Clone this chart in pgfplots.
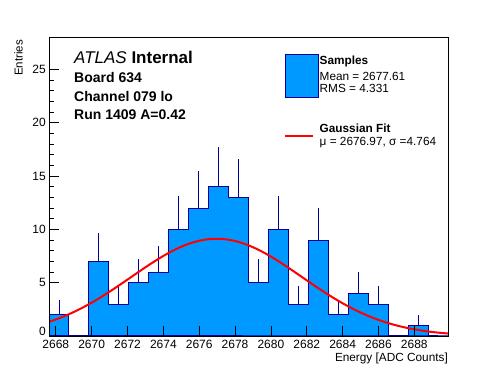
\documentclass[border=0pt]{standalone}
\usepackage{fontspec}
\setmainfont{Liberation Sans}
\usepackage{pgfplots}
\pgfplotsset{compat=1.18}
\definecolor{histfill}{RGB}{0,153,255}
\definecolor{histline}{RGB}{0,0,153}
\definecolor{fitred}{RGB}{255,0,0}
\begin{document}
\begin{tikzpicture}
\useasboundingbox (-49pt,-38pt) rectangle (449pt,336pt);
\begin{axis}[
  at={(0pt,0pt)}, anchor=south west,
  scale only axis, width=399pt, height=298.5pt,
  xmin=2667.62, xmax=2689.88, ymin=0, ymax=28,
  axis on top,
  tick align=inside,
  xtick pos=bottom, ytick pos=left,
  xtick={2668,2670,...,2688},
  ytick={5,10,...,25},
  extra y ticks={0},
  extra y tick style={yticklabel style={yshift=5pt}},
  minor x tick num=3, minor y tick num=4,
  major tick length=10pt, minor tick length=5pt,
  axis line style={line width=0.8pt},
  every tick/.style={black, line width=0.8pt},
  /pgf/number format/assume math mode=true,
  /pgf/number format/1000 sep={},
  tick label style={font=\fontsize{12}{13}\selectfont},
  xticklabel style={inner sep=0pt, yshift=-4pt},
  yticklabel style={inner sep=0pt, xshift=-3pt},
]
\addplot[const plot, fill=histfill, draw=histline, line width=1pt] coordinates {
(2667.620,2) (2668.733,0) (2669.846,7) (2670.959,3) (2672.072,5)
(2673.185,6) (2674.298,10) (2675.411,12) (2676.524,14) (2677.637,13)
(2678.750,5) (2679.863,10) (2680.976,3) (2682.089,9) (2683.202,2)
(2684.315,4) (2685.428,3) (2686.541,0) (2687.654,1) (2688.767,0)
(2689.880,0)
} \closedcycle;
\addplot[histline, draw=none, mark=none,
  error bars/.cd, y dir=plus, y explicit, error mark=none,
  error bar style={histline, line width=1pt}] coordinates {
(2668.18,2) +- (0,1.414)
(2670.40,7) +- (0,2.646)
(2671.52,3) +- (0,1.732)
(2672.63,5) +- (0,2.236)
(2673.74,6) +- (0,2.449)
(2674.85,10) +- (0,3.162)
(2675.97,12) +- (0,3.464)
(2677.08,14) +- (0,3.742)
(2678.19,13) +- (0,3.606)
(2679.31,5) +- (0,2.236)
(2680.42,10) +- (0,3.162)
(2681.53,3) +- (0,1.732)
(2682.65,9) +- (0,3.000)
(2683.76,2) +- (0,1.414)
(2684.87,4) +- (0,2.000)
(2685.98,3) +- (0,1.732)
(2688.21,1) +- (0,1.000)
};
\addplot[fitred, line width=2pt, smooth, mark=none] coordinates {
(2667.62,1.329) (2668.0,1.550) (2668.5,1.878) (2669.0,2.250) (2669.5,2.668)
(2670.0,3.127) (2670.5,3.626) (2671.0,4.159) (2671.5,4.718) (2672.0,5.292)
(2672.5,5.872) (2673.0,6.445) (2673.5,6.995) (2674.0,7.509) (2674.5,7.973)
(2675.0,8.373) (2675.5,8.696) (2676.0,8.933) (2676.5,9.076) (2677.0,9.120)
(2677.5,9.064) (2678.0,8.910) (2678.5,8.661) (2679.0,8.329) (2679.5,7.921)
(2680.0,7.450) (2680.5,6.931) (2681.0,6.377) (2681.5,5.803) (2682.0,5.223)
(2682.5,4.649) (2683.0,4.093) (2683.5,3.565) (2684.0,3.070) (2684.5,2.615)
(2685.0,2.203) (2685.5,1.836) (2686.0,1.513) (2686.5,1.233) (2687.0,0.994)
(2687.5,0.793) (2688.0,0.625) (2688.5,0.487) (2689.0,0.376) (2689.5,0.287)
(2689.88,0.232)
};
\end{axis}
% axis titles
\node[rotate=90, anchor=north east, inner sep=0pt, font=\fontsize{11.5}{13}\selectfont] at (-35pt,296pt) {Entries};
\node[anchor=base east, inner sep=0pt, font=\fontsize{11.8}{13}\selectfont] at (399pt,-26pt) {Energy [ADC Counts]};
% ATLAS text
\node[anchor=base west, inner sep=0pt, font=\fontsize{17}{19}\selectfont] at (25pt,272pt) {\textit{ATLAS} \textbf{Internal}};
\node[anchor=base west, inner sep=0pt, font=\fontsize{14}{16}\selectfont\bfseries] at (25pt,253pt) {Board 634};
\node[anchor=base west, inner sep=0pt, font=\fontsize{14}{16}\selectfont\bfseries] at (25pt,234pt) {Channel 079 lo};
\node[anchor=base west, inner sep=0pt, font=\fontsize{14}{16}\selectfont\bfseries] at (25pt,216.5pt) {Run 1409 A=0.42};
% legend
\filldraw[fill=histfill, draw=histline, line width=1pt] (236pt,238.5pt) rectangle (269pt,281pt);
\node[anchor=base west, inner sep=0pt, font=\fontsize{11.8}{13}\selectfont\bfseries] at (270.5pt,271pt) {Samples};
\node[anchor=base west, inner sep=0pt, font=\fontsize{11.8}{13}\selectfont] at (270.5pt,255pt) {Mean = 2677.61};
\node[anchor=base west, inner sep=0pt, font=\fontsize{11.8}{13}\selectfont] at (270.5pt,243pt) {RMS = 4.331};
\draw[fitred, line width=2pt] (236pt,200pt) -- (264pt,200pt);
\node[anchor=base west, inner sep=0pt, font=\fontsize{11.8}{13}\selectfont\bfseries] at (270.5pt,203pt) {Gaussian Fit};
\node[anchor=base west, inner sep=0pt, font=\fontsize{11.8}{13}\selectfont] at (270.5pt,190pt) {μ = 2676.97, σ =4.764};
\end{tikzpicture}
\end{document}
